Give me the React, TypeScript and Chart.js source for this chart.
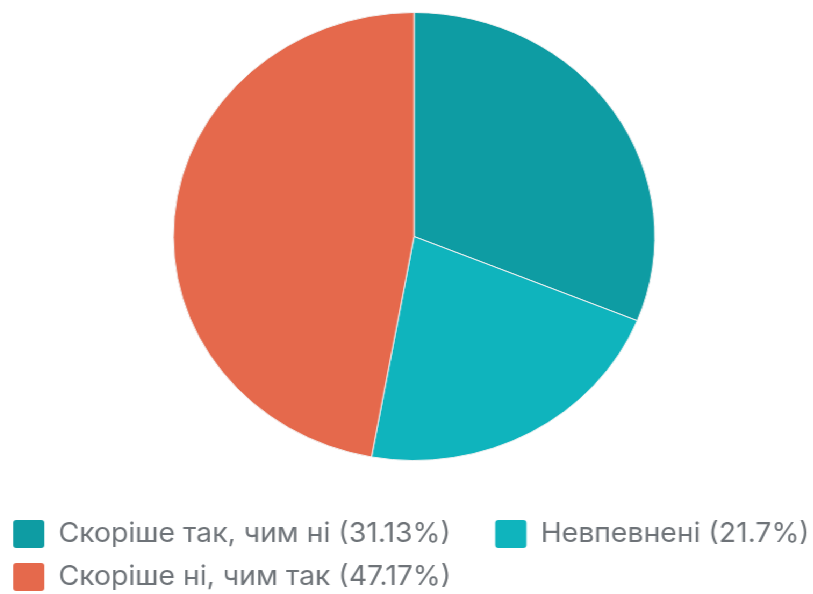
import { useEffect, useRef } from "react";
import { Chart, registerables } from "chart.js";

Chart.register(...registerables);

const categories = ["Скоріше так, чим ні", "Невпевнені", "Скоріше ні, чим так"];
const values = [31.13, 21.7, 47.17];
const colors = ["#0E9CA3", "#0FB4BD", "#E5694C"];

export default function App() {
  const ref = useRef<HTMLCanvasElement>(null);

  useEffect(() => {
    if (!ref.current) return;
    const chart = new Chart(ref.current, {
      type: "pie",
      data: {
        labels: categories,
        datasets: [
          {
            data: values,
            backgroundColor: colors,
            borderColor: "#f2f2f2",
            borderWidth: 1,
          },
        ],
      },
      options: {
        animation: false,
        responsive: true,
        maintainAspectRatio: false,
        layout: { padding: { top: 12, left: 0, right: 0, bottom: 0 } },
        plugins: {
          tooltip: { enabled: false },
          legend: {
            position: "bottom",
            align: "start",
            title: {
              display: true,
              text: " ",
              font: { size: 1, lineHeight: 1 },
              padding: { top: 43, bottom: 0 },
            },
            labels: {
              boxWidth: 29,
              boxHeight: 28,
              padding: 15,
              color: "#6E7378",
              font: { family: "Inter", size: 26.4 },
              useBorderRadius: true,
              borderRadius: 3,
              generateLabels: (c: any) => {
                const base = (Chart as any).overrides.pie.plugins.legend.labels.generateLabels(c);
                return base.map((item: any, i: number) => ({
                  ...item,
                  text: `${categories[i]} (${values[i]}%)` + (i === 0 ? "\u2003" : ""),
                  lineWidth: 0,
                  strokeStyle: colors[i],
                }));
              },
            },
          },
        },
      },
    });
    return () => chart.destroy();
  }, []);

  return (
    <div
      style={{
        position: "fixed",
        left: -3,
        top: 0,
        width: 776,
        height: 601,
        transform: "scaleX(1.075)",
        transformOrigin: "0 0",
        background: "#ffffff",
      }}
    >
      <canvas ref={ref} />
    </div>
  );
}
